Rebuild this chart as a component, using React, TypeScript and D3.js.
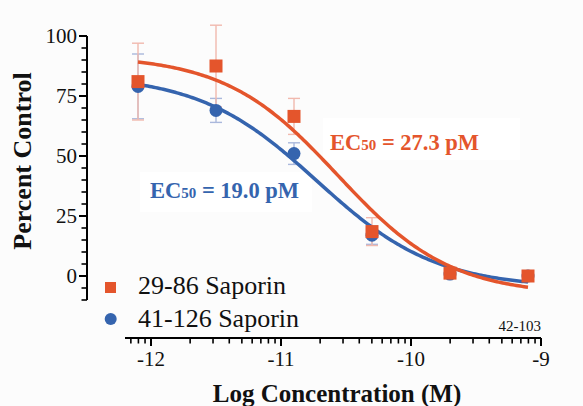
import React from "react";
import * as d3 from "d3";

const W = 583;
const H = 406;

// Data
const logConc = [-12.1, -11.5, -10.9, -10.3, -9.7, -9.1];
const red2986Mean = [81, 87.5, 66.5, 18.5, 1.2, 0];
const red2986Err = [16, 17, 7.5, 5.8, 1.5, 1.5];
const blue41126Mean = [79, 69, 51, 17, 0.8, 0];
const blue41126Err = [13.5, 5, 4.5, 3.8, 1.2, 1.2];
// Four-parameter logistic fit parameters: [top, bottom, logEC50, hill]
const redFit = [92, -8, Math.log10(27.3e-12), 1.0];
const blueFit = [84, -5, Math.log10(19.0e-12), 0.95];
const yTicks = [0, 25, 50, 75, 100];
const xTicks = [-12, -11, -10, -9];

const RED = "#e4552c";
const BLUE = "#3564ae";
const FONT = "Liberation Serif";
const fs = { fontFamily: FONT };

const x = d3.scaleLinear().domain([-12.2, -9]).range([125, 541]);
const y = d3.scaleLinear().domain([-10, 100]).range([300, 36]);

function logistic(p: number[], xv: number) {
  const [top, bottom, lec, h] = p;
  return bottom + (top - bottom) / (1 + Math.pow(10, (xv - lec) * h));
}

function curvePath(p: number[]) {
  const xs = d3.range(0, 201).map((i) => -12.1 + (3.0 * i) / 200);
  const line = d3
    .line<number>()
    .x((d) => x(d))
    .y((d) => y(logistic(p, d)))
    .curve(d3.curveLinear);
  return line(xs) || "";
}

export default function App() {
  const yMinor = d3.range(-10, 101, 5).filter((v) => v % 25 !== 0);
  const xMinor: number[] = [];
  for (let dec = -13; dec < -9; dec++) {
    for (let k = 2; k <= 9; k++) {
      const v = dec + Math.log10(k);
      if (v > -12.2 && v < -9) xMinor.push(v);
    }
  }
  const capW = 6;
  const errBars = (means: number[], errs: number[], color: string) =>
    logConc.map((xv, i) => {
      const cx = x(xv);
      const t = y(means[i] + errs[i]);
      const b = y(means[i] - errs[i]);
      return (
        <g key={i} stroke={color} strokeWidth={1.4}>
          <line x1={cx} x2={cx} y1={t} y2={b} />
          <line x1={cx - capW} x2={cx + capW} y1={t} y2={t} />
          <line x1={cx - capW} x2={cx + capW} y1={b} y2={b} />
        </g>
      );
    });

  return (
    <svg width={W} height={H} style={{ position: "fixed", left: 0, top: 0 }} fontFamily={FONT}>
      <rect width={W} height={H} fill="#fcfcfc" />
      {/* text backgrounds */}
      <rect x={323} y={118} width={197} height={42} fill="#ffffff" />
      <rect x={140} y={172} width={172} height={40} fill="#ffffff" />

      {/* error bars */}
      {errBars(blue41126Mean, blue41126Err, "#aab8dc")}
      {errBars(red2986Mean, red2986Err, "#f1b9ae")}

      {/* curves */}
      <path d={curvePath(blueFit)} fill="none" stroke={BLUE} strokeWidth={3.5} />
      <path d={curvePath(redFit)} fill="none" stroke={RED} strokeWidth={3.5} />

      {/* points */}
      {logConc.map((xv, i) => (
        <circle key={"b" + i} cx={x(xv)} cy={y(blue41126Mean[i])} r={6.5} fill={BLUE} />
      ))}
      {logConc.map((xv, i) => (
        <rect
          key={"r" + i}
          x={x(xv) - 6.5}
          y={y(red2986Mean[i]) - 6.5}
          width={13}
          height={13}
          fill={RED}
        />
      ))}

      {/* y axis */}
      <g stroke="#000" strokeWidth={2}>
        <line x1={87} x2={87} y1={y(100)} y2={y(-10)} />
        {yTicks.map((v) => (
          <line key={v} x1={79} x2={87} y1={y(v)} y2={y(v)} />
        ))}
        {yMinor.map((v) => (
          <line key={"m" + v} x1={81.5} x2={87} y1={y(v)} y2={y(v)} strokeWidth={1.6} />
        ))}
      </g>
      {yTicks.map((v) => (
        <text key={v} x={77} y={y(v) + 7} textAnchor="end" fontSize={21} fill="#111" style={fs}>
          {String(v)}
        </text>
      ))}

      {/* x axis */}
      <g stroke="#000" strokeWidth={2}>
        <line x1={125} x2={541} y1={338} y2={338} />
        {xTicks.map((v) => (
          <line key={v} x1={x(v)} x2={x(v)} y1={338} y2={346} />
        ))}
        {xMinor.map((v, i) => (
          <line key={"m" + i} x1={x(v)} x2={x(v)} y1={338} y2={343.5} strokeWidth={1.6} />
        ))}
      </g>
      {xTicks.map((v) => (
        <text key={v} x={x(v)} y={366} textAnchor="middle" fontSize={21} fill="#111" style={fs}>
          {"-" + Math.abs(v)}
        </text>
      ))}

      {/* axis titles */}
      <text
        transform="translate(31,161) rotate(-90)"
        textAnchor="middle"
        fontSize={26}
        fontWeight="bold"
        fill="#111"
        style={fs}
      >
        Percent Control
      </text>
      <text x={337} y={402} textAnchor="middle" fontSize={25} fontWeight="bold" fill="#111" style={fs}>
        Log Concentration (M)
      </text>

      {/* EC50 labels */}
      <text x={330} y={150} fontSize={22.5} fontWeight="bold" fill={RED} style={fs}>
        EC<tspan fontSize={15}>50</tspan> = 27.3 pM
      </text>
      <text x={150} y={198} fontSize={22.5} fontWeight="bold" fill={BLUE} style={fs}>
        EC<tspan fontSize={15}>50</tspan> = 19.0 pM
      </text>

      {/* legend */}
      <rect x={105} y={282} width={11} height={11} fill={RED} />
      <text x={138} y={294} fontSize={26} fill="#111" style={fs}>
        29-86 Saporin
      </text>
      <circle cx={110.7} cy={319} r={6} fill={BLUE} />
      <text x={138} y={327} fontSize={26} fill="#111" style={fs}>
        41-126 Saporin
      </text>

      <text x={541} y={331} textAnchor="end" fontSize={15} fill="#111" style={fs}>
        42-103
      </text>
    </svg>
  );
}
